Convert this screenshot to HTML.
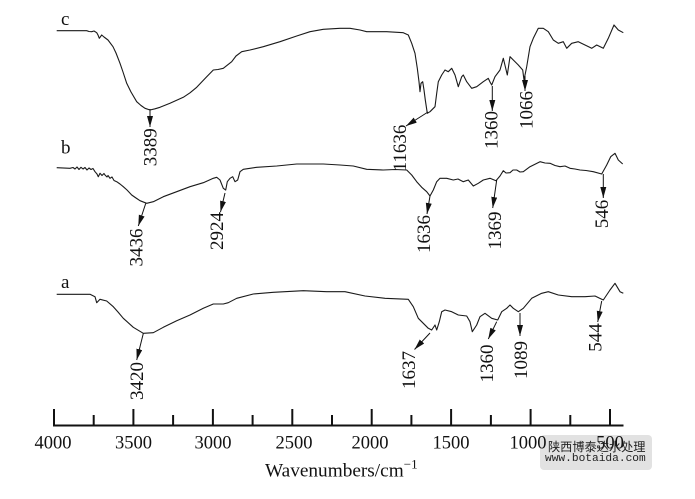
<!DOCTYPE html>
<html>
<head>
<meta charset="utf-8">
<style>
  html, body { margin: 0; padding: 0; background: #ffffff; }
  body { width: 695px; height: 499px; overflow: hidden; position: relative; }
  svg { position: absolute; left: 0; top: 0; }
  .t { font-family: "Liberation Serif", "Times New Roman", serif; fill: #111; }
  .wm { position: absolute; left: 540px; top: 435px; width: 112px; height: 35px; background: #e2e2e2; border-radius: 4px; }
  .wm1 { position: absolute; left: 548px; top: 439px; font-family: "Noto Sans CJK SC", "WenQuanYi Zen Hei", sans-serif; font-size: 12.2px; line-height: 14px; color: #222; white-space: nowrap; }
  .wm2 { position: absolute; left: 545px; top: 453px; font-family: "Liberation Mono", "DejaVu Sans Mono", monospace; font-size: 11.2px; line-height: 13px; color: #222; white-space: nowrap; }
</style>
</head>
<body>
<div class="wm"></div>
<svg width="695" height="499" viewBox="0 0 695 499" xmlns="http://www.w3.org/2000/svg">
  <defs>
    <marker id="ah" markerUnits="userSpaceOnUse" markerWidth="12" markerHeight="7" refX="11" refY="3" orient="auto">
      <path d="M0,0 L11,3 L0,6 z" fill="#111"/>
    </marker>
  </defs>

  <!-- Curve c -->
  <polyline fill="none" stroke="#1a1a1a" stroke-width="1.1" stroke-linejoin="round" points="
    56.7,30.7 86.7,30.7 89,31.5 91.7,31.7 94,31 96.7,32.7 98,35 99.3,38.3 101.7,35 104,37 108,40 113,46.7 116,53 120,63.3 123,72 126.7,83.3 131,92 136.7,101.7 141,105.5 145,108.3 150,110 155,108.8 160,107.3 170,103.3 183.3,97.3 190,92.8 196.7,87.3 206.7,76.7 213.3,70 218,69.5 223.3,68.3 231.7,61.7 236,56 241.7,51.7 250,50 263.3,46.7 280,41.7 296.7,36 310,31.7 323.3,29.3 340,28.3 350,28.3 360,30 366.7,31.7 386.7,31.7 403.3,32.7 408.3,35 411.7,43.3 415,53.3 417.3,68.3 419,81.7 420,91.7 421,83.3 422.7,81.7 424,90 425.3,100 427.3,113.3 430,111.7 435,106.7 436.7,93.3 438.3,81.7 441.7,75 445,70 448.3,71.7 451.7,68.3 455,75 458.3,86.7 461.7,76.7 463.3,75 466.7,81.7 471.7,88.3 476.7,86.7 483.3,81.7 488.3,78.3 490,82 491.7,85 495,76.7 500,70 503.3,58.3 505.7,68.3 507.3,75 510,56.7 513.3,60 518.3,65 522.7,70 524,80 526.7,66.7 530,46.7 533.3,38.3 538.3,28.3 543.3,28.3 548.3,31.7 553.3,40 558.3,43.3 563.3,41.7 566.7,48.3 571.7,43.3 578.3,41.7 585,45 591.7,48.3 596.7,45 603.3,48.3 608.3,38.3 614,25 618.3,30 623.3,32.7"/>

  <!-- Curve b -->
  <polyline fill="none" stroke="#1a1a1a" stroke-width="1.1" stroke-linejoin="round" points="
    56.7,167.7 70,168.3 73,167.5 75,169 77,167 79,169.5 81,167.3 83,169 85,167.5 87,170 89,168 91,169.5 93,168.5 95,171.7 97,174 98.3,176.7 100,173.3 102,175.5 104,173.5 105,175 107,177 108,175.5 110,178.3 112,177 114,180.5 116.7,181.7 120,184 123.3,186.7 127,190 131.7,195 136,198 140,200.7 146.7,203.3 153.3,201.7 163.3,196.7 176.7,191.7 190,186.7 203.3,182.7 213.3,178.3 216.7,177.3 220,180 223.3,188.3 225.7,190 227.3,181.7 230,178.3 232.7,176.7 235,181.7 237.7,180 240,171.7 243.3,169.3 256.7,167.3 276.7,166 296.7,164 323.3,164 340,165 353.3,166 366.7,169.3 383.3,170 395,169.5 406.7,170 411.7,175 416.7,181.7 421.7,187.3 426.7,191.7 430,196 433.3,190 436.7,181.7 440,178.3 446.7,178.3 453.3,180 458,179 463.3,181.7 468.3,180 473.3,186 478.3,183.3 483.3,180 490,178.3 496,180.7 500,176 503.3,170.7 506,173 510,172.7 513,170 516.7,170 520,172 523.3,171.7 530,166.7 540,161.7 545,163 550,163.3 555,165.5 560,166.7 565,166 570,168.3 575,169 580,170 586,170.5 593.3,171.7 601.7,174 606.7,165 610.7,156.7 615,153.3 618.3,160 622.7,164"/>

  <!-- Curve a -->
  <polyline fill="none" stroke="#1a1a1a" stroke-width="1.1" stroke-linejoin="round" points="
    56.7,294.3 90,294.3 95,296.7 96.7,302.7 100,299.3 106.7,301 113.3,306.7 118,312 123.3,318.3 133.3,327.3 143.3,333.3 153.3,332.7 163.3,327.3 176.7,320.7 190,315 203.3,308.3 213.3,304 223.3,304 228.3,302.7 236.7,298.3 253.3,294 273.3,292.3 303.3,290.7 326.7,291.7 345,291.7 365,296 385,298.3 408.3,299.3 413.3,306.7 418.3,318.3 423.3,323.3 428.3,328.3 431.7,330 435,325 436.7,330 439.3,321.7 441.7,311.7 445,310 451.7,311.7 458.3,315 466.7,316 470,321.7 472.3,331.7 476.7,325 480,316.7 485,313.3 491.7,318.3 497.7,320 501.7,311.7 506.7,308.3 510,305 513.3,308.3 518.3,311.7 523.3,308.3 531.7,298.3 541.7,293.3 548.3,291.7 558.3,295 571.7,296.7 585,296.7 595,296 603.3,300 610,290 615,283.3 620,291.7 623.3,293.3"/>

  <!-- Arrows -->
  <g stroke="#111" stroke-width="1" marker-end="url(#ah)">
    <line x1="150" y1="109" x2="150" y2="127"/>
    <line x1="428" y1="112" x2="406" y2="126"/>
    <line x1="492.3" y1="86" x2="492.3" y2="111"/>
    <line x1="525" y1="76" x2="525" y2="91"/>
    <line x1="145.7" y1="203.5" x2="138.3" y2="226"/>
    <line x1="225" y1="193" x2="220.5" y2="212"/>
    <line x1="430" y1="196" x2="427" y2="214"/>
    <line x1="496.7" y1="180" x2="492.7" y2="208"/>
    <line x1="603.3" y1="174" x2="603.3" y2="198"/>
    <line x1="143.3" y1="333.5" x2="136.7" y2="360"/>
    <line x1="430" y1="333" x2="414.5" y2="349.5"/>
    <line x1="496.7" y1="321.7" x2="488.3" y2="339"/>
    <line x1="520" y1="313" x2="520" y2="336"/>
    <line x1="601.7" y1="301" x2="597.7" y2="322"/>
  </g>

  <!-- Peak labels (rotated) -->
  <g class="t" font-size="19" text-anchor="middle">
    <text transform="translate(156.5,147.3) rotate(-90)">3389</text>
    <text transform="translate(406,148) rotate(-90)">11636</text>
    <text transform="translate(497.5,130) rotate(-90)">1360</text>
    <text transform="translate(532.5,110) rotate(-90)">1066</text>
    <text transform="translate(142.5,247.5) rotate(-90)">3436</text>
    <text transform="translate(223,231) rotate(-90)">2924</text>
    <text transform="translate(430,234) rotate(-90)">1636</text>
    <text transform="translate(501,230.5) rotate(-90)">1369</text>
    <text transform="translate(608,214) rotate(-90)">546</text>
    <text transform="translate(143,381) rotate(-90)">3420</text>
    <text transform="translate(415,370) rotate(-90)">1637</text>
    <text transform="translate(493,363.5) rotate(-90)">1360</text>
    <text transform="translate(527,360) rotate(-90)">1089</text>
    <text transform="translate(601.5,337.5) rotate(-90)">544</text>
  </g>

  <!-- Series letters -->
  <g class="t" font-size="19">
    <text x="61" y="25">c</text>
    <text x="61" y="153.3">b</text>
    <text x="61" y="288">a</text>
  </g>

  <!-- Axis -->
  <line x1="53" y1="425.5" x2="623.5" y2="425.5" stroke="#111" stroke-width="2"/>
  <g stroke="#111" stroke-width="2">
    <line x1="54" y1="409" x2="54" y2="425"/>
    <line x1="133.4" y1="409" x2="133.4" y2="425"/>
    <line x1="212.9" y1="409" x2="212.9" y2="425"/>
    <line x1="292.3" y1="409" x2="292.3" y2="425"/>
    <line x1="371.7" y1="409" x2="371.7" y2="425"/>
    <line x1="451.1" y1="409" x2="451.1" y2="425"/>
    <line x1="530.6" y1="409" x2="530.6" y2="425"/>
    <line x1="610" y1="409" x2="610" y2="425"/>
    <line x1="93.7" y1="415" x2="93.7" y2="425"/>
    <line x1="173.1" y1="415" x2="173.1" y2="425"/>
    <line x1="252.6" y1="415" x2="252.6" y2="425"/>
    <line x1="332" y1="415" x2="332" y2="425"/>
    <line x1="411.4" y1="415" x2="411.4" y2="425"/>
    <line x1="490.9" y1="415" x2="490.9" y2="425"/>
    <line x1="570.3" y1="415" x2="570.3" y2="425"/>
  </g>
  <g class="t" font-size="18.5" text-anchor="middle">
    <text x="53" y="448.5">4000</text>
    <text x="133.5" y="448.5">3500</text>
    <text x="213" y="448.5">3000</text>
    <text x="294" y="448.5">2500</text>
    <text x="370" y="448.5">2000</text>
    <text x="451" y="448.5">1500</text>
    <text x="528" y="448.5">1000</text>
    <text x="610" y="448.5">500</text>
  </g>
  <text class="t" x="265" y="476.5" font-size="19.3">Wavenumbers/cm<tspan font-size="13" dy="-8">−1</tspan></text>
</svg>
<div class="wm1">陕西博泰达水处理</div>
<div class="wm2">www.botaida.com</div>
</body>
</html>
